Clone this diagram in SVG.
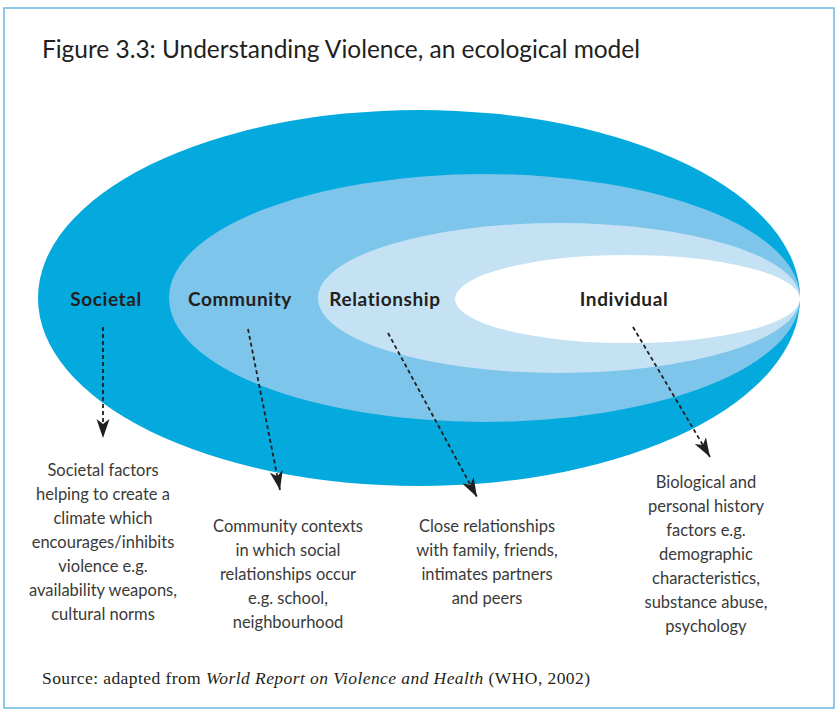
<svg xmlns="http://www.w3.org/2000/svg" width="837" height="711" viewBox="0 0 837 711">
<defs>
<marker id="ah" markerUnits="userSpaceOnUse" markerWidth="24" markerHeight="20" viewBox="-20 -10 22 20" refX="0" refY="0" orient="auto">
<path d="M0,0 L-19,-6.5 L-14,0 L-19,6.5 Z" fill="#231F20"/>
</marker>
<style>
.title{font-family:Lato,"Liberation Sans",sans-serif;font-size:24.5px;fill:#231F20}
.lbl{font-family:Lato,"Liberation Sans",sans-serif;font-size:19px;letter-spacing:0.6px;font-weight:bold;fill:#231F20;text-anchor:middle}
.body{font-family:Lato,"Liberation Sans",sans-serif;font-size:16.5px;fill:#3A3A3A;text-anchor:middle}
.src{font-family:"Liberation Serif",serif;font-size:17.5px;fill:#231F20}
.conn{fill:none;stroke:#231F20;stroke-width:1.8;stroke-dasharray:4 3;marker-end:url(#ah)}
</style>
</defs>
<rect x="4" y="8" width="830" height="700" fill="#FFFFFF" stroke="#6BB8E0" stroke-width="1.5"/>
<text class="title" x="42" y="58" textLength="598" lengthAdjust="spacing">Figure 3.3: Understanding Violence, an ecological model</text>
<g id="societal">
<ellipse cx="419" cy="298" rx="381" ry="188" fill="#04A9DE"/>
<text class="lbl" x="106" y="306">Societal</text>
</g>
<g id="community">
<ellipse cx="484.5" cy="298" rx="315.5" ry="124" fill="#7DC5EA"/>
<text class="lbl" x="240" y="306">Community</text>
</g>
<g id="relationship">
<ellipse cx="559" cy="298" rx="241" ry="75" fill="#C4E2F4"/>
<text class="lbl" x="385" y="306">Relationship</text>
</g>
<g id="individual">
<ellipse cx="627.5" cy="299" rx="172.5" ry="44" fill="#FFFFFF"/>
<text class="lbl" x="624" y="306">Individual</text>
</g>
<g id="connectors">
<line class="conn" x1="103" y1="327" x2="103" y2="438"/>
<line class="conn" x1="248" y1="329" x2="280" y2="490"/>
<line class="conn" x1="388" y1="333" x2="477" y2="497"/>
<line class="conn" x1="633" y1="327" x2="710" y2="457"/>
</g>
<g id="txt-societal">
<text class="body"><tspan x="103" y="476">Societal factors</tspan><tspan x="103" y="500">helping to create a</tspan><tspan x="103" y="524">climate which</tspan><tspan x="103" y="548">encourages/inhibits</tspan><tspan x="103" y="572">violence e.g.</tspan><tspan x="103" y="596">availability weapons,</tspan><tspan x="103" y="620">cultural norms</tspan></text>
</g>
<g id="txt-community">
<text class="body"><tspan x="288" y="532">Community contexts</tspan><tspan x="288" y="556">in which social</tspan><tspan x="288" y="580">relationships occur</tspan><tspan x="288" y="604">e.g. school,</tspan><tspan x="288" y="628">neighbourhood</tspan></text>
</g>
<g id="txt-relationship">
<text class="body"><tspan x="487" y="532">Close relationships</tspan><tspan x="487" y="556">with family, friends,</tspan><tspan x="487" y="580">intimates partners</tspan><tspan x="487" y="604">and peers</tspan></text>
</g>
<g id="txt-individual">
<text class="body"><tspan x="706" y="488">Biological and</tspan><tspan x="706" y="512">personal history</tspan><tspan x="706" y="536">factors e.g.</tspan><tspan x="706" y="560">demographic</tspan><tspan x="706" y="584">characteristics,</tspan><tspan x="706" y="608">substance abuse,</tspan><tspan x="706" y="632">psychology</tspan></text>
</g>
<text class="src" x="42" y="684" textLength="548" lengthAdjust="spacing">Source: adapted from <tspan font-style="italic">World Report on Violence and Health</tspan> (WHO, 2002)</text>
</svg>
